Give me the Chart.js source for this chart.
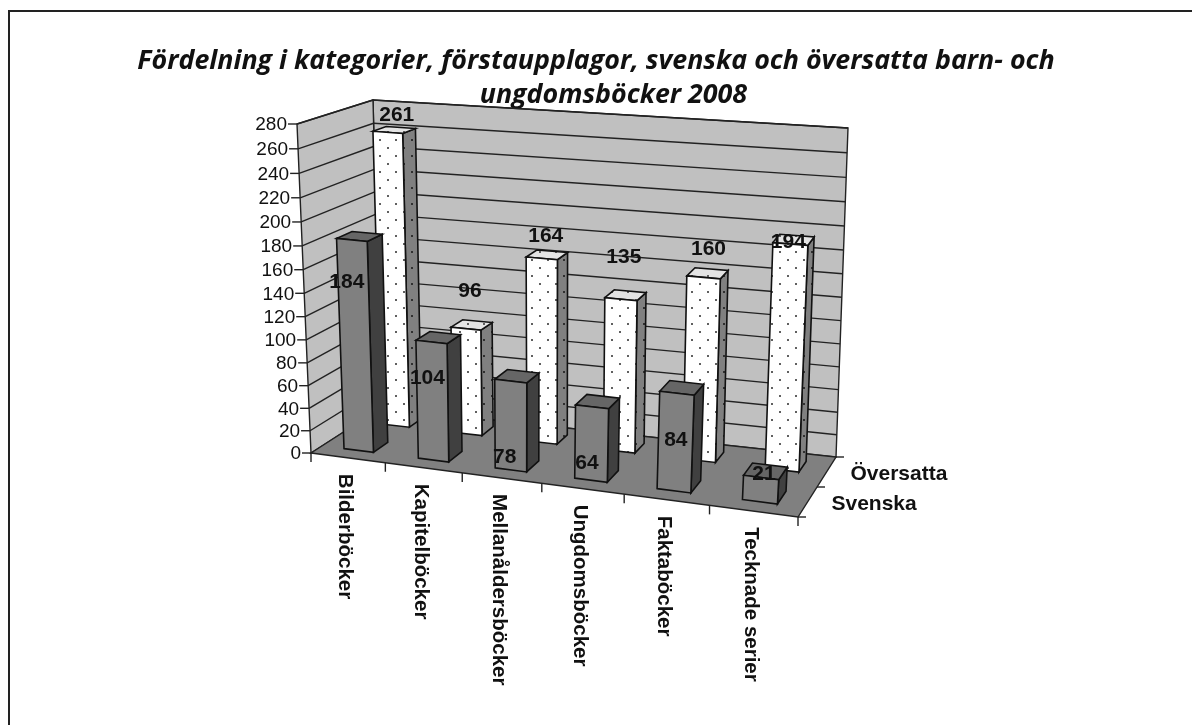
<!DOCTYPE html>
<html>
<head>
<meta charset="utf-8">
<title>Fördelning i kategorier</title>
<script src="https://cdn.jsdelivr.net/npm/chart.js@4/dist/chart.umd.min.js"></script>
<style>
  html, body { margin: 0; padding: 0; background: #fff; }
  #wrap { width: 1192px; height: 725px; }
</style>
</head>
<body>
<div id="wrap"><canvas id="chart" width="1192" height="725"></canvas></div>
<script>
// Chart data
const categories = ['Bilderböcker', 'Kapitelböcker', 'Mellanåldersböcker', 'Ungdomsböcker', 'Faktaböcker', 'Tecknade serier'];
const seriesNames = ['Översatta', 'Svenska'];
const oversatta = [261, 96, 164, 135, 160, 194];
const svenska = [184, 104, 78, 64, 84, 21];
const yTicks = [0, 20, 40, 60, 80, 100, 120, 140, 160, 180, 200, 220, 240, 260, 280];
const titleLines = ['Fördelning i kategorier, förstaupplagor, svenska och översatta barn- och', '     ungdomsböcker 2008'];

// Camera: where the corners of the plot box land on the canvas
const box = {
  frontBottomLeft: [311, 453], frontBottomRight: [798, 517],
  backBottomLeft: [381, 408], backBottomRight: [836, 457],
  frontTopLeft: [297, 124], frontTopRight: [818, 171],
  backTopLeft: [373, 100], backTopRight: [848, 128]
};
const depthRange = [[0.70, 0.88], [0.16, 0.375]];
// Hand placed label shifts from the centre of each bar top
const labelShift = [
  [[9, -17], [4, -37], [4, -22], [3, -42], [5, -28], [-2, -2]],
  [[-5, 42], [-4, 36], [-6, 76], [-5, 56], [-1, 47], [3, -3]]
];

const lerp = (a, b, k) => a + (b - a) * k;
const lerp2 = (p, q, k) => [lerp(p[0], q[0], k), lerp(p[1], q[1], k)];
const warp = (k, c) => k / (1 + c * (1 - k));

/**
 * Map plot coordinates (all 0..1) to canvas pixels
 */
function project(u, v, w) {
  const t = warp(u, 0.11);
  const h = warp(v, 0.06);
  const bottom = lerp2(lerp2(box.frontBottomLeft, box.frontBottomRight, t), lerp2(box.backBottomLeft, box.backBottomRight, t), w);
  const top = lerp2(lerp2(box.frontTopLeft, box.frontTopRight, t), lerp2(box.backTopLeft, box.backTopRight, t), w);
  return lerp2(bottom, top, h);
}

/**
 * Make a tile with staggered dots for the Översatta bars
 */
function dotPattern(ctx, bg, dot) {
  const tile = document.createElement('canvas');
  tile.width = 16;
  tile.height = 16;
  const t = tile.getContext('2d');
  t.fillStyle = bg;
  t.fillRect(0, 0, 16, 16);
  t.fillStyle = dot;
  t.fillRect(3, 3, 2, 2);
  t.fillRect(11, 11, 2, 2);
  return ctx.createPattern(tile, 'repeat');
}

function face(ctx, points, fill, stroke, lineWidth) {
  ctx.beginPath();
  points.forEach((p, i) => (i ? ctx.lineTo(p[0], p[1]) : ctx.moveTo(p[0], p[1])));
  ctx.closePath();
  if (fill) {
    ctx.fillStyle = fill;
    ctx.fill();
  }
  if (stroke) {
    ctx.strokeStyle = stroke;
    ctx.lineWidth = lineWidth || 1;
    ctx.stroke();
  }
}

function line(ctx, a, b, color, lineWidth) {
  ctx.beginPath();
  ctx.moveTo(a[0], a[1]);
  ctx.lineTo(b[0], b[1]);
  ctx.strokeStyle = color;
  ctx.lineWidth = lineWidth;
  ctx.stroke();
}

// Draws the walls, floor and axes behind the bars
const wallsPlugin = {
  id: 'walls',
  beforeDatasetsDraw(chart) {
    const ctx = chart.ctx;
    const yScale = chart.scales.y;
    const area = chart.chartArea;
    const toV = value => (area.bottom - yScale.getPixelForValue(value)) / area.height;

    ctx.save();
    // outer frame, only the top and left edges show
    ctx.strokeStyle = '#222';
    ctx.lineWidth = 2;
    ctx.beginPath();
    ctx.moveTo(9, 725);
    ctx.lineTo(9, 11);
    ctx.lineTo(1192, 11);
    ctx.stroke();

    face(ctx, [project(0, 0, 1), project(1, 0, 1), project(1, 1, 1), project(0, 1, 1)], '#c0c0c0', '#222', 1.4);
    face(ctx, [project(0, 0, 0), project(0, 0, 1), project(0, 1, 1), project(0, 1, 0)], '#c0c0c0', '#222', 1.4);
    face(ctx, [project(0, 0, 0), project(1, 0, 0), project(1, 0, 1), project(0, 0, 1)], '#808080', '#222', 1.4);

    // gridlines and value axis
    ctx.font = '19px "Liberation Sans"';
    ctx.textAlign = 'right';
    ctx.textBaseline = 'middle';
    yTicks.forEach(tick => {
      const v = toV(tick);
      const front = project(0, v, 0);
      const back = project(0, v, 1);
      const right = project(1, v, 1);
      if (tick > 0) {
        line(ctx, front, back, '#222', 1.4);
        line(ctx, back, right, '#222', 1.4);
      }
      line(ctx, [front[0] - 9, front[1]], front, '#222', 1.4);
      ctx.fillStyle = '#111';
      ctx.fillText(String(tick), front[0] - 10, front[1] + 1);
    });

    // category axis
    const xScale = chart.scales.x;
    categories.forEach((name, i) => {
      const edge = project(i / categories.length, 0, 0);
      line(ctx, edge, [edge[0], edge[1] + 9], '#222', 1.4);
      const mid = project((xScale.getPixelForValue(i) - area.left) / area.width, 0, 0);
      ctx.save();
      ctx.translate(mid[0] - 3, mid[1] + 16);
      ctx.rotate(Math.PI / 2);
      ctx.font = 'bold 20.5px "Liberation Sans"';
      ctx.textAlign = 'left';
      ctx.textBaseline = 'middle';
      ctx.fillStyle = '#111';
      ctx.fillText(name, 0, 0);
      ctx.restore();
    });
    const last = project(1, 0, 0);
    line(ctx, last, [last[0], last[1] + 9], '#222', 1.4);

    // depth axis
    [0, 0.5, 1].forEach(w => {
      const p = project(1, 0, w);
      line(ctx, p, [p[0] + 8, p[1]], '#222', 1.4);
    });
    ctx.font = 'bold 21px "Liberation Sans"';
    ctx.textAlign = 'left';
    ctx.fillStyle = '#111';
    seriesNames.forEach((name, i) => {
      const p = project(1, 0, i === 0 ? 0.75 : 0.25);
      ctx.fillText(name, p[0] + 24, p[1] + 2);
    });
    ctx.restore();
  },
  // the flat bars are replaced by the boxes below
  beforeDatasetDraw() {
    return false;
  },
  afterDatasetsDraw(chart) {
    const ctx = chart.ctx;
    const area = chart.chartArea;
    const white = {
      front: dotPattern(ctx, '#ffffff', '#606060'),
      side: dotPattern(ctx, '#808080', '#303030'),
      top: dotPattern(ctx, '#e4e4e4', '#606060')
    };
    const grey = { front: '#808080', side: '#404040', top: '#666666' };
    const labels = [];

    ctx.save();
    [0, 1].forEach(d => {
      const paint = d === 0 ? white : grey;
      const [w0, w1] = depthRange[d];
      chart.getDatasetMeta(d).data.forEach((bar, i) => {
        const props = bar.getProps(['x', 'y', 'base', 'width']);
        const u0 = (props.x - props.width / 2 - area.left) / area.width;
        const u1 = (props.x + props.width / 2 - area.left) / area.width;
        const v = (area.bottom - props.y) / area.height;

        face(ctx, [project(u1, 0, w0), project(u1, 0, w1), project(u1, v, w1), project(u1, v, w0)], paint.side, '#111', 1.6);
        face(ctx, [project(u0, v, w0), project(u1, v, w0), project(u1, v, w1), project(u0, v, w1)], paint.top, '#111', 1.6);
        face(ctx, [project(u0, 0, w0), project(u1, 0, w0), project(u1, v, w0), project(u0, v, w0)], paint.front, '#111', 1.6);

        const c = project((u0 + u1) / 2, v, w0);
        labels.push({ text: String(chart.data.datasets[d].data[i]), x: c[0] + labelShift[d][i][0], y: c[1] + labelShift[d][i][1] });
      });
    });

    ctx.font = 'bold 21px "Liberation Sans"';
    ctx.textAlign = 'center';
    ctx.textBaseline = 'middle';
    ctx.fillStyle = '#111';
    labels.forEach(l => ctx.fillText(l.text, l.x, l.y));
    ctx.restore();
  }
};

new Chart(document.getElementById('chart'), {
  type: 'bar',
  data: {
    labels: categories,
    datasets: [
      { label: seriesNames[0], data: oversatta, backgroundColor: '#ffffff', borderColor: '#111' },
      { label: seriesNames[1], data: svenska, backgroundColor: '#808080', borderColor: '#111' }
    ]
  },
  options: {
    responsive: false,
    animation: false,
    events: [],
    grouped: false,
    barPercentage: 0.4,
    categoryPercentage: 1,
    layout: { padding: 0 },
    plugins: {
      legend: { display: false },
      tooltip: { enabled: false },
      title: {
        display: true,
        text: titleLines,
        color: '#111',
        font: { family: '"Open Sans"', size: 26.8, weight: 'bold', style: 'italic', lineHeight: 1.27 },
        padding: { top: 44, bottom: 10 }
      }
    },
    scales: {
      x: { display: false },
      y: { display: false, min: 0, max: 280 }
    }
  },
  plugins: [wallsPlugin]
});
</script>
</body>
</html>
